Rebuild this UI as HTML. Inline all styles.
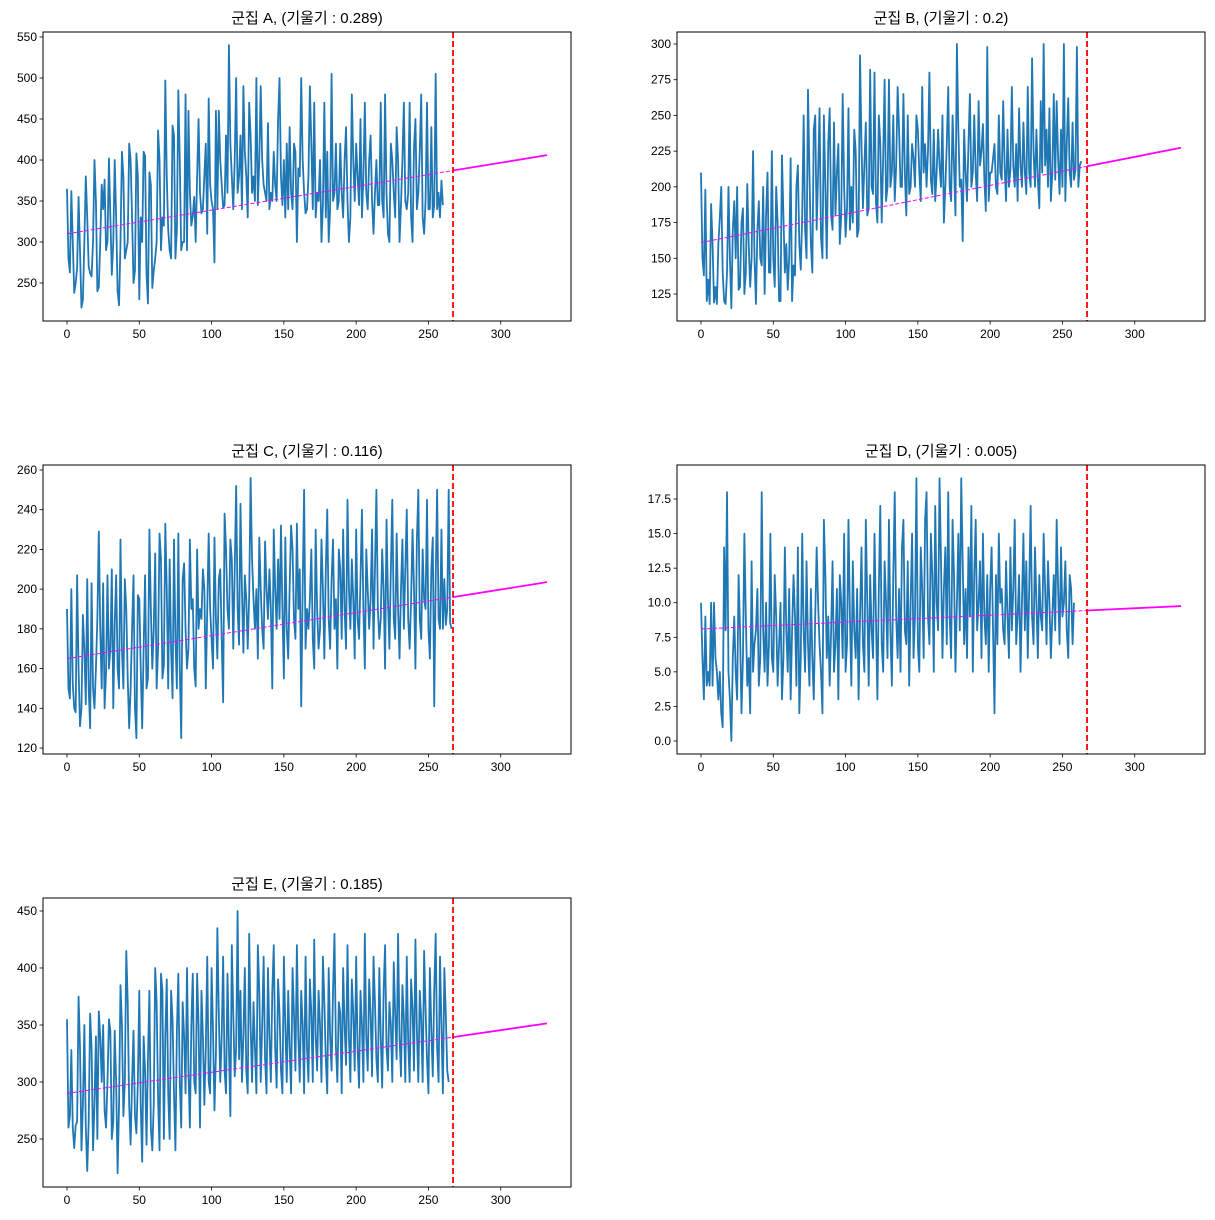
<!DOCTYPE html>
<html><head><meta charset="utf-8">
<style>
html,body{margin:0;padding:0;background:#fff;}
svg{display:block;font-family:"Liberation Sans","Noto Sans CJK KR",sans-serif;}
</style></head>
<body>
<svg id="fig" width="1215" height="1220" xmlns="http://www.w3.org/2000/svg"></svg>
<script>
const titles = ["군집 A, (기울기 : 0.289)","군집 B, (기울기 : 0.2)","군집 C, (기울기 : 0.116)","군집 D, (기울기 : 0.005)","군집 E, (기울기 : 0.185)"];
const slopes = [0.289,0.2,0.116,0.005,0.185];
const intercepts = [310,161,165,8.1,290];
const splitX = 267;
const forecastEnd = 332;
const xTicks = [0,50,100,150,200,250,300];
const yTicksA = [250,300,350,400,450,500,550];
const yTicksB = [125,150,175,200,225,250,275,300];
const yTicksC = [120,140,160,180,200,220,240,260];
const yTicksD = [0,2.5,5,7.5,10,12.5,15,17.5];
const yTicksE = [250,300,350,400,450];
const seriesA = [365,280,263,362,300,238,250,268,355,290,220,230,300,380,330,270,262,258,300,400,350,240,245,300,370,340,376,290,300,402,330,260,300,400,330,240,223,300,410,380,280,290,300,420,400,330,250,265,408,380,230,330,300,410,405,260,225,385,370,244,265,280,300,436,400,290,330,320,497,380,315,290,280,442,430,280,315,485,400,290,300,300,480,290,460,360,320,332,355,300,380,450,360,335,340,380,420,310,475,370,350,340,275,460,340,460,400,370,342,345,430,360,540,420,380,340,400,500,360,380,430,340,490,410,380,330,470,430,360,380,350,500,345,400,490,400,370,360,350,445,340,360,350,410,370,350,450,500,380,345,400,330,420,340,440,360,340,420,410,300,390,380,500,400,360,335,340,380,490,420,340,470,330,360,350,400,300,345,470,330,410,300,340,505,350,360,420,340,350,420,360,330,400,440,350,300,330,480,400,350,420,380,345,450,330,380,470,360,340,400,430,350,310,360,400,345,345,470,350,330,480,360,310,300,420,400,360,330,440,400,300,345,400,470,350,340,360,470,330,300,415,450,340,360,410,480,330,310,350,470,340,340,440,330,345,505,340,360,330,375,345];
const seriesB = [210,150,138,198,120,135,118,188,160,119,130,118,160,178,200,140,120,118,140,200,150,115,170,190,150,200,128,130,175,185,125,140,202,160,130,150,225,150,118,170,190,150,145,200,125,180,210,140,140,225,150,130,200,175,120,120,222,180,140,160,128,150,220,120,145,138,200,215,160,142,180,250,170,150,268,210,160,140,240,250,170,210,255,165,150,250,200,150,230,255,180,170,245,180,210,230,160,180,265,200,165,185,255,170,200,175,240,225,165,170,292,230,185,215,245,180,185,282,200,195,280,190,175,250,230,175,220,275,190,200,275,200,210,250,190,215,270,240,200,200,265,210,180,250,195,200,230,220,200,250,240,210,190,270,210,230,200,225,280,205,195,240,190,210,240,215,200,250,175,200,230,270,200,190,250,215,180,300,240,200,205,162,240,210,190,230,265,200,210,250,210,190,260,215,225,244,205,183,298,190,210,210,220,230,200,195,250,210,205,260,215,190,240,200,212,270,215,200,230,190,255,215,200,245,210,195,270,210,200,290,225,200,240,205,185,260,210,300,215,240,200,255,190,210,265,205,260,220,195,240,200,300,190,230,262,210,200,245,205,212,298,200,215,218];
const seriesC = [190,150,145,200,152,140,138,207,160,131,140,187,170,142,205,150,130,203,150,140,160,185,229,180,150,203,140,158,207,160,170,210,140,182,207,160,150,225,170,150,205,190,155,130,150,180,207,140,125,197,195,160,130,170,207,150,155,230,190,160,180,218,150,170,228,215,155,162,233,200,150,215,170,145,225,175,150,228,160,125,205,213,180,160,170,225,190,195,160,151,220,180,190,185,210,200,150,190,228,190,175,160,226,185,165,205,210,175,143,238,220,190,180,225,215,170,210,252,190,172,243,200,168,207,195,170,196,256,215,195,180,200,165,226,200,180,170,224,200,185,210,190,150,230,200,180,215,185,232,190,155,226,180,165,201,232,220,185,175,233,190,210,141,200,250,170,190,180,195,220,175,160,230,190,170,180,225,200,165,210,240,185,170,205,225,180,195,160,220,210,175,230,190,170,245,200,180,215,195,165,230,185,175,205,240,190,160,220,200,180,195,230,170,210,250,190,175,185,220,200,160,235,195,170,210,245,185,175,228,190,165,200,225,180,210,240,185,170,195,230,200,160,225,250,185,175,220,195,190,245,180,165,210,226,141,205,250,185,180,230,180,205,182,190,250,183,180];
const seriesD = [10,6,3,9,4,5,4,10,4,10,6,5,3,5,2,1,14,8,18,5,3,0,6,9,5,3,12,8,2,6,15,9,4,6,2,13,5,7,8,11,4,6,18,8,5,10,4,7,15,6,5,12,9,4,7,10,3,6,14,8,5,11,3,8,12,9,4,14,2,6,15,8,5,13,7,4,11,6,3,9,14,10,7,5,2,16,12,6,9,4,8,13,5,7,11,3,12,10,6,15,5,7,16,9,4,13,8,6,11,3,9,14,7,5,16,10,4,12,8,6,15,9,3,11,17,7,5,13,10,6,16,8,4,12,18,9,6,11,5,14,16,8,7,13,4,10,15,6,9,19,7,5,14,11,6,16,18,9,7,15,12,5,17,10,8,19,13,6,11,14,7,18,9,6,16,12,5,10,15,8,19,13,7,11,6,14,9,17,5,12,16,8,10,13,6,15,9,7,12,5,11,14,8,2,12,7,15,10,11,8,7,13,9,6,14,8,11,16,7,9,12,5,10,15,8,13,6,11,17,9,7,14,10,6,12,9,8,15,11,7,13,10,6,9,12,8,16,11,7,14,9,10,13,8,6,12,11,7,10];
const seriesE = [355,260,270,328,260,242,262,265,375,330,240,280,350,260,222,265,360,330,240,280,340,250,362,340,300,350,275,260,300,355,345,250,265,345,300,220,280,385,350,270,300,415,370,280,245,300,345,270,255,300,380,280,230,340,310,245,320,380,260,240,280,400,370,285,240,395,380,250,340,390,290,250,380,355,290,240,345,395,300,260,370,340,290,400,310,260,350,395,300,290,395,350,260,380,340,280,330,410,300,290,400,345,275,325,435,360,300,340,410,310,290,395,330,270,420,360,305,330,450,320,380,300,340,400,310,290,430,350,300,370,330,290,420,380,300,350,410,320,290,400,340,300,380,420,330,295,390,360,310,290,410,350,300,380,330,290,400,360,310,420,340,300,380,350,290,410,330,300,390,360,300,425,340,310,380,350,300,410,370,320,290,400,340,310,380,430,330,300,370,360,290,400,350,315,420,340,300,390,360,310,410,330,295,380,350,300,430,340,310,390,360,305,410,370,320,300,400,340,295,380,420,330,310,370,350,300,405,360,320,430,340,305,385,355,300,410,335,300,390,365,310,425,345,300,380,355,300,415,365,320,290,400,345,305,380,430,330,300,410,350,290,400,360,310,300];

const allSeries = [seriesA,seriesB,seriesC,seriesD,seriesE];
const allTicks = [yTicksA,yTicksB,yTicksC,yTicksD,yTicksE];
const yDomains = [[203.7,556.1],[106.1,308.4],[117.0,262.5],[-0.94,19.96],[207.9,461.4]];
const xDomain = [-16.6,348.6];
const boxes = [[43,32],[677,32],[43,465],[677,465],[43,898]];
const W=528,H=289;
const NS="http://www.w3.org/2000/svg";
const fig=document.getElementById('fig');
function mk(tag,attrs,parent){const e=document.createElementNS(NS,tag);for(const k in attrs)e.setAttribute(k,attrs[k]);(parent||fig).appendChild(e);return e;}
const letters=['a','b','c','d','e'];
for(let p=0;p<5;p++){
  const [bx,by]=boxes[p];
  const [y0,y1]=yDomains[p];
  const sx=v=>bx+(v-xDomain[0])/(xDomain[1]-xDomain[0])*W;
  const sy=v=>by+H-(v-y0)/(y1-y0)*H;
  const g=mk('g',{});
  
  
  const clipId='clip'+p;
  const cp=mk('clipPath',{id:clipId},g);mk('rect',{x:bx,y:by,width:W,height:H},cp);
  const t=mk('text',{x:bx+W/2,y:by-9,'text-anchor':'middle','font-size':15,fill:'#000'},g);
  t.textContent=titles[p];
  
  
  const data=allSeries[p];
  let d='';
  data.forEach((v,i)=>{d+=(i?'L':'M')+sx(i).toFixed(2)+','+sy(v).toFixed(2);});
  const ln=mk('path',{d:d,fill:'none',stroke:'#1f77b4','stroke-width':1.8,'stroke-linejoin':'round','clip-path':'url(#'+clipId+')'},g);
  
  
  const b=intercepts[p],m=slopes[p];
  const tr=mk('line',{x1:sx(0),y1:sy(b),x2:sx(splitX),y2:sy(b+m*splitX),stroke:'#ff00ff','stroke-width':1,'stroke-dasharray':'4,2'},g);
  
  
  const fc=mk('line',{x1:sx(splitX),y1:sy(b+m*splitX),x2:sx(forecastEnd),y2:sy(b+m*forecastEnd),stroke:'#ff00ff','stroke-width':1.8},g);
  
  
  const rl=mk('line',{x1:sx(splitX),y1:by,x2:sx(splitX),y2:by+H,stroke:'#ff0000','stroke-width':1.8,'stroke-dasharray':'6,3'},g);
  
  
  const fr=mk('rect',{x:bx,y:by,width:W,height:H,fill:'none',stroke:'#000','stroke-width':1},g);
  
  
  xTicks.forEach(v=>{
    const x=sx(v);
    mk('line',{x1:x,y1:by+H,x2:x,y2:by+H+3.5,stroke:'#000','stroke-width':0.8},g);
    const tl=mk('text',{x:x,y:by+H+17,'text-anchor':'middle','font-size':12,fill:'#000'},g);
    tl.textContent=String(v);
    
    
  });
  allTicks[p].forEach(v=>{
    const y=sy(v);
    mk('line',{x1:bx-3.5,y1:y,x2:bx,y2:y,stroke:'#000','stroke-width':0.8},g);
    const tl=mk('text',{x:bx-6,y:y+4,'text-anchor':'end','font-size':12,fill:'#000'},g);
    tl.textContent=(p===3)?v.toFixed(1):String(v);
    
    
  });
}
</script>
</body></html>
